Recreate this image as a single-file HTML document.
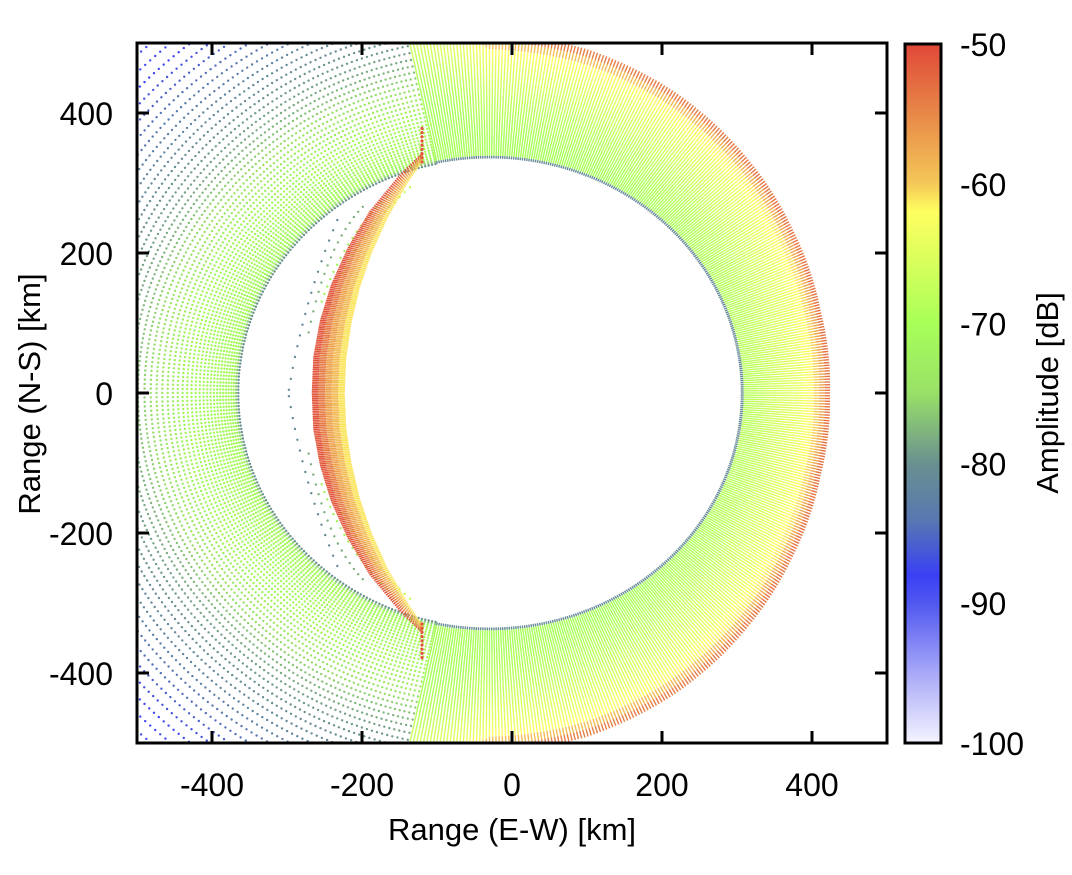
<!DOCTYPE html>
<html><head><meta charset="utf-8"><style>
html,body{margin:0;padding:0;background:#fff;}
svg{display:block;font-family:"Liberation Sans",Arial,sans-serif;}
</style></head><body>
<svg id="chart" width="1072" height="875" viewBox="0 0 1072 875" xmlns="http://www.w3.org/2000/svg">
<defs>
<clipPath id="plotclip"><rect x="137" y="43" width="750" height="700"/></clipPath>
<linearGradient id="cbgrad" x1="0" y1="1" x2="0" y2="0">
<stop offset="0" stop-color="#f4f4ff"/><stop offset="0.1" stop-color="#a8a8f8"/>
<stop offset="0.2" stop-color="#5058f0"/><stop offset="0.24" stop-color="#3a40f4"/>
<stop offset="0.32" stop-color="#5878b0"/><stop offset="0.4" stop-color="#6a9090"/>
<stop offset="0.5" stop-color="#98e068"/><stop offset="0.6" stop-color="#a8ff58"/>
<stop offset="0.76" stop-color="#ffff60"/><stop offset="0.8" stop-color="#f4c858"/>
<stop offset="0.9" stop-color="#e88848"/><stop offset="1" stop-color="#e04838"/>
</linearGradient>
</defs>
<g id="marks" clip-path="url(#plotclip)"></g>
<rect x="137" y="43" width="750" height="700" fill="none" stroke="#000" stroke-width="3"/>
<g id="axes"></g>
<rect x="905" y="44" width="36" height="699" fill="url(#cbgrad)" stroke="#000" stroke-width="3"/>
<text x="512" y="840" font-size="31" text-anchor="middle">Range (E-W) [km]</text>
<text transform="translate(40,394) rotate(-90)" font-size="31" text-anchor="middle">Range (N-S) [km]</text>
<text transform="translate(1058,393) rotate(-90)" font-size="31" text-anchor="middle">Amplitude [dB]</text>
</svg>
<script>
// ---- data ----
const xTicks = [-400, -200, 0, 200, 400];
const yTicks = [-400, -200, 0, 200, 400];
const cbTicks = [-50, -60, -70, -80, -90, -100];
const ringCenterX = -30;
const ringRadius = 335;
const ringEdgeAmp = -81;
// outer envelope radius (km from ring center) vs ray angle (deg)
const envAngles = [0, 15, 30, 45, 60, 75, 90, 105, 120, 180];
const envRadius = [454, 457, 467, 481, 496, 508, 513, 600, 800, 900];
// amplitude vs distance below the outer envelope (km)
const envDist = [0, 8, 20, 40, 70, 100, 150];
const envDistAmp = [-51, -56, -61, -64, -66, -68, -70];
// amplitude vs range on far (left) side
const leftRange = [335, 342, 400, 440, 480, 540, 600, 660];
const leftAmp = [-80, -71, -71, -74, -78, -81, -85, -89];
// crescent band (km)
const crescentY = [0, 50, 100, 150, 200, 250, 300, 330];
const crescentOuterX = [-267, -265, -256, -241, -219, -190, -150, -120];
const crescentInnerX = [-223, -221, -214, -203, -187, -166, -139, -120];
// dotted arcs in the gap: [x0,y0,xm,ym,x1,y1], amplitude
const gapArcs = [[-136,294,-189,233,-229,166],[-167,280,-220,209,-256,123],[-199,266,-243,190,-273,76],[-233,247,-273,123,-299,-6]];
const gapArcAmp = [-68, -72, -78, -81];
// colormap
const cmapVal = [-100, -95, -90, -88, -84, -80, -75, -70, -62, -60, -55, -50];
const cmapCol = ["#f4f4ff","#a8a8f8","#5058f0","#3a40f4","#5878b0","#6a9090","#98e068","#a8ff58","#ffff60","#f4c858","#e88848","#e04838"];

// ---- scales ----
const X = v => 512 + 0.75 * v;
const Y = v => 393 - 0.7 * v;
const NS = "http://www.w3.org/2000/svg";
function interp(xs, ys, x){
  if (x <= xs[0]) return ys[0];
  for (let i = 1; i < xs.length; i++) if (x <= xs[i]) { const t = (x - xs[i-1]) / (xs[i] - xs[i-1]); return ys[i-1] + t * (ys[i] - ys[i-1]); }
  return ys[ys.length - 1];
}
function hex(c){ return [parseInt(c.substr(1,2),16),parseInt(c.substr(3,2),16),parseInt(c.substr(5,2),16)]; }
function color(a){
  a = Math.max(-100, Math.min(-50, a));
  let i = 1; while (i < cmapVal.length - 1 && a > cmapVal[i]) i++;
  const t = (a - cmapVal[i-1]) / (cmapVal[i] - cmapVal[i-1]);
  const c0 = hex(cmapCol[i-1]), c1 = hex(cmapCol[i]);
  return "rgb(" + c0.map((v, k) => Math.round(v + t * (c1[k] - v))).join(",") + ")";
}
const marks = document.getElementById("marks");
const axes = document.getElementById("axes");
function el(tag, attrs, parent){ const e = document.createElementNS(NS, tag); for (const k in attrs) e.setAttribute(k, attrs[k]); parent.appendChild(e); return e; }

// right-side rays (continuous lines)
const gRays = el("g", {}, marks);


for (let ang = -102; ang <= 102.001; ang += 0.5) {
  const th = ang * Math.PI / 180, aa = Math.abs(ang);
  const rOut = interp(envAngles, envRadius, aa);
  const bounds = [ringRadius, ringRadius + 4];
  const N = 16;
  for (let s = 1; s <= N; s++) bounds.push(ringRadius + 4 + s / N * (rOut - ringRadius - 4));
  for (let s = 0; s < bounds.length - 1; s++) {
    const r0 = bounds[s], r1 = bounds[s+1];
    const amp = s === 0 ? ringEdgeAmp : interp(envDist, envDistAmp, rOut - (r0 + r1) / 2);
    const ln = el("line", {x1: X(ringCenterX + r0 * Math.cos(th)).toFixed(1), y1: Y(r0 * Math.sin(th)).toFixed(1), x2: X(ringCenterX + r1 * Math.cos(th)).toFixed(1), y2: Y(r1 * Math.sin(th)).toFixed(1), stroke: color(amp), "stroke-width": 1.4}, gRays);
    
    
  }
}
// far-side dots
const gDots = el("g", {}, marks);


for (let ang = 102.4; ang < 258; ang += 0.8) {
  const th = ang * Math.PI / 180;
  let r = ringRadius;
  while (r < 800) {
    const px = X(ringCenterX + r * Math.cos(th)), py = Y(r * Math.sin(th));
    if (px > 130 && py > 36 && py < 750) {
      const c = el("circle", {cx: px.toFixed(1), cy: py.toFixed(1), r: 1.2, fill: color(interp(leftRange, leftAmp, r))}, gDots);
      
      
    }
    r += 3 + (r - ringRadius) * 0.045;
  }
}
// gap arcs
const gArcs = el("g", {}, marks);


gapArcs.forEach((a, i) => {
  [1, -1].forEach(sg => {
    for (let t = 0; t <= 1.001; t += 0.06) {
      const x = (1-t)*(1-t)*a[0] + 2*t*(1-t)*(2*a[2]-(a[0]+a[4])/2) + t*t*a[4];
      const y = (1-t)*(1-t)*a[1] + 2*t*(1-t)*(2*a[3]-(a[1]+a[5])/2) + t*t*a[5];
      const c = el("circle", {cx: X(x).toFixed(1), cy: Y(sg * y).toFixed(1), r: 1.2, fill: color(gapArcAmp[i])}, gArcs);
      
      
    }
  });
});
// crescent band
const gCres = el("g", {}, marks);


const cresAmp = [-51, -54, -57, -59, -61];
for (let y = -330; y <= 330.001; y += 2.5) {
  const ay = Math.abs(y);
  const xo = interp(crescentY, crescentOuterX, ay), xi = interp(crescentY, crescentInnerX, ay);
  const tilt = y * 0.04;
  const M = cresAmp.length;
  for (let s = 0; s < M; s++) {
    const f0 = s / M, f1 = (s + 1) / M;
    const ln = el("line", {x1: X(xo + f0*(xi-xo)).toFixed(1), y1: Y(y + tilt*(1-f0)).toFixed(1), x2: X(xo + f1*(xi-xo)).toFixed(1), y2: Y(y + tilt*(1-f1)).toFixed(1), stroke: color(cresAmp[s]), "stroke-width": 1.5}, gCres);
    
    
  }
}
for (let y = 330; y <= 378; y += 6) {
  [1, -1].forEach(sg => {
    const c = el("circle", {cx: X(-120), cy: Y(sg*y), r: 1.6, fill: color(-51)}, gCres);
    
    
  });
}
// axes ticks & labels
xTicks.forEach(v => {
  [[743, 731], [43, 55]].forEach(p => {
    const t = el("line", {x1: X(v), x2: X(v), y1: p[0], y2: p[1], stroke: "#000", "stroke-width": 3}, axes);
    
    
  });
  const tx = el("text", {x: X(v), y: 796, "font-size": 32, "text-anchor": "middle"}, axes);
  tx.textContent = v;
  
  
});
yTicks.forEach(v => {
  [[137, 149], [887, 875]].forEach(p => {
    const t = el("line", {x1: p[0], x2: p[1], y1: Y(v), y2: Y(v), stroke: "#000", "stroke-width": 3}, axes);
    
    
  });
  const tx = el("text", {x: 113, y: Y(v) + 12, "font-size": 32, "text-anchor": "end"}, axes);
  tx.textContent = v;
  
  
});
const CB = v => 44 + (-50 - v) / 50 * 699;
cbTicks.forEach(v => {
  if (v > -100 && v < -50) {
    [[905, 913], [941, 933]].forEach(p => {
      const t = el("line", {x1: p[0], x2: p[1], y1: CB(v), y2: CB(v), stroke: "#000", "stroke-width": 2.5}, axes);
      
      
    });
  }
  const tx = el("text", {x: 960, y: CB(v) + 12, "font-size": 32}, axes);
  tx.textContent = v;
  
  
});
</script>
</body></html>
